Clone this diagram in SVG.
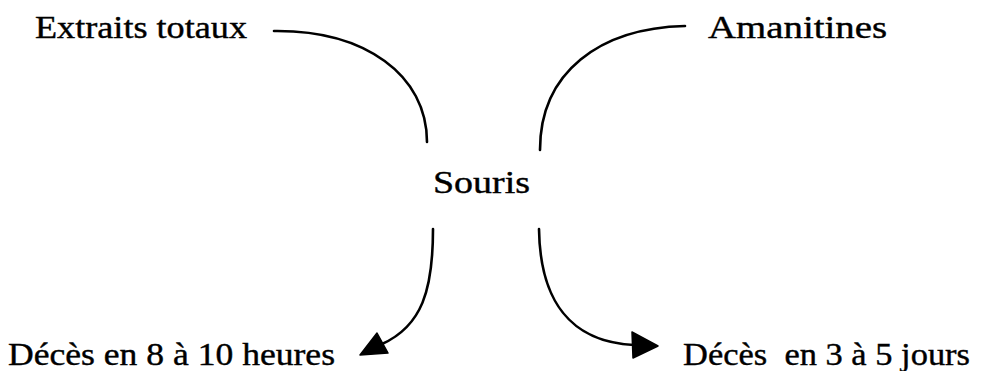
<svg xmlns="http://www.w3.org/2000/svg" width="991" height="371" viewBox="0 0 991 371">
<style>
text{font-family:"Liberation Serif","Times New Roman",serif;font-size:32px;fill:#000;stroke:#000;stroke-width:0.4}
.c{fill:none;stroke:#000;stroke-width:2.6;stroke-linecap:round}
.h{fill:#000;stroke:#000;stroke-width:1.5;stroke-linejoin:round}
</style>
<rect width="991" height="371" fill="#fff"/>
<g id="n-extraits"><text x="35" y="38" textLength="212" lengthAdjust="spacingAndGlyphs">Extraits totaux</text></g>
<g id="n-amanitines"><text x="708" y="38" textLength="179" lengthAdjust="spacingAndGlyphs">Amanitines</text></g>
<g id="n-souris"><text x="433" y="193" textLength="97" lengthAdjust="spacingAndGlyphs">Souris</text></g>
<g id="n-heures"><text x="8" y="365" textLength="327" lengthAdjust="spacingAndGlyphs">Décès en 8 à 10 heures</text></g>
<g id="n-jours"><text x="683" y="365" textLength="287" lengthAdjust="spacingAndGlyphs" xml:space="preserve">Décès  en 3 à 5 jours</text></g>
<g id="connectors">
<path class="c" d="M274,31 C365,30 427,75 427,142"/>
<path class="c" d="M685,26 C600,28 540,72 540,150"/>
<path class="c" d="M433,229 C433,290 422,326 382,344"/>
<path class="c" d="M539,229 C540,300 570,342 634,345"/>
<polygon class="h" points="360,355 377,333 388,353"/>
<polygon class="h" points="632,332 658,346 633,358"/>
</g>
</svg>
